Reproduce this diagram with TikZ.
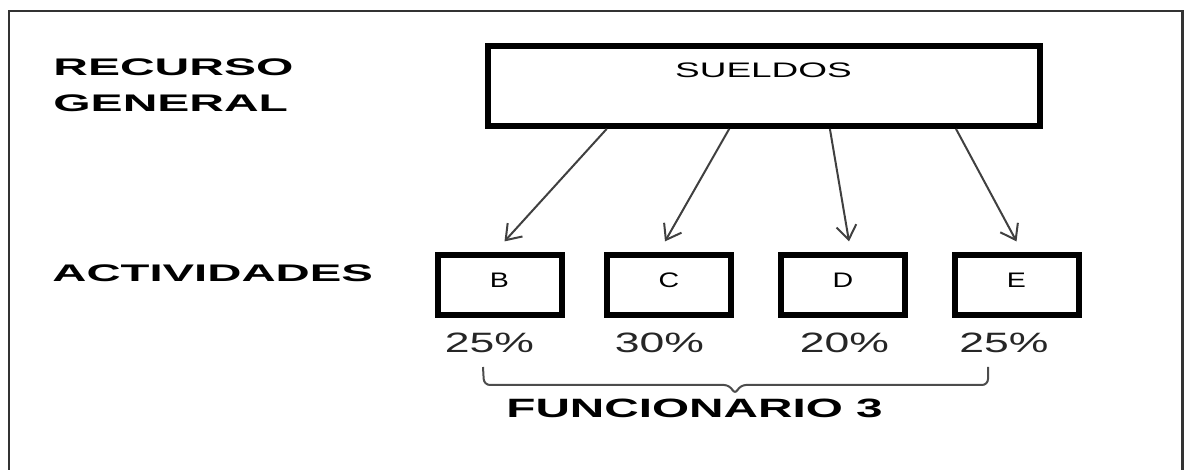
\documentclass[tikz,border=0pt]{standalone}
\usepackage{fontspec}
\setmainfont{Liberation Sans}
\usetikzlibrary{arrows.meta,calc}

% texto ensanchado a lo horizontal
\newcommand\ancho[2]{\scalebox{#1}[1]{#2}}

\tikzset{
  rotulo/.style={font=\bfseries\fontsize{12}{14}\selectfont, inner sep=0pt, anchor=base west},
  caja/.style={draw, line width=3pt, inner sep=0pt},
  letra/.style={caja, minimum width=62pt, minimum height=30pt, text height=16pt, text depth=14pt, font=\fontsize{10.5}{12}\selectfont},
  pct/.style={font=\fontsize{14}{16}\selectfont, inner sep=0pt, anchor=base, text=black!85},
  flecha/.style={draw=black!75, line width=1pt, -{Straight Barb[length=7pt,width=10pt]}},
  llave/.style={draw=black!70, line width=1pt, rounded corners=3pt},
  marco/.style={draw=black!80, line width=1.2pt}
}

\begin{document}
\begin{tikzpicture}[x=0.5pt, y=-0.5pt]
\useasboundingbox (0,0) rectangle (1184,470);
\draw[marco] (9,470) -- (9,11) -- (1182.5,11) -- (1182.5,470);

% rotulos de la izquierda
\node[rotulo] (recurso) at (53,76) {\ancho{2}{RECURSO}};
\node[rotulo] (general) at (53,112) {\ancho{2}{GENERAL}};
\node[rotulo] (actividades) at (52,282) {\ancho{1.97}{ACTIVIDADES}};

% recurso general
\node[caja, minimum width=276pt, minimum height=40pt, text height=16pt, text depth=24pt,
  font=\fontsize{10.5}{12}\selectfont] (sueldos) at (763.5,85.9) {\ancho{1.76}{SUELDOS}};

% actividades y su reparto
\foreach \nom/\x/\px/\txt/\pc in {b/499.5/489.5/B/25, c/669/659.5/C/30, d/843/844.5/D/20, e/1016.5/1004/E/25}{
  \node[letra] (\nom) at (\x,285.4) {\ancho{1.36}{\txt}};
  \node[pct] (p\nom) at (\px,352) {\ancho{1.59}{\pc\%}};
}

\foreach \f/\nom/\dx in {0.219/b/5, 0.4385/c/-4, 0.619/d/6, 0.845/e/0}
  \draw[flecha] ($(sueldos.south west)!\f!(sueldos.south east)$) -- ($(\nom.north)+(\dx,-11)$);

% llave bajo los porcentajes
\draw[llave] (483,367) -- (484,385) -- (730,385) -- (735,395) -- (740,385) -- (988,385) -- (988,367);
\node[rotulo, font=\bfseries\fontsize{13.25}{15}\selectfont] (funcionario) at (506,417) {\ancho{1.8}{FUNCIONARIO 3}};
\end{tikzpicture}
\end{document}
